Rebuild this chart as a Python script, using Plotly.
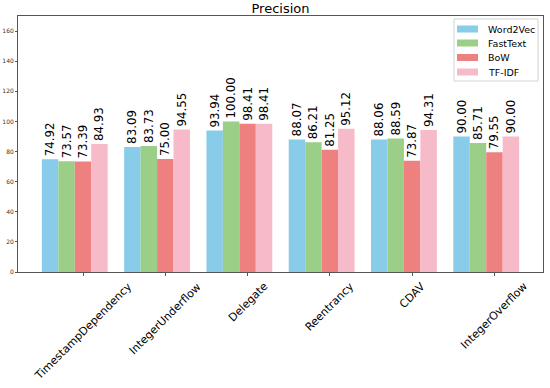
import plotly.graph_objects as go

categories = ["TimestampDependency", "IntegerUnderflow", "Delegate", "Reentrancy", "CDAV", "IntegerOverflow"]
series_names = ["Word2Vec", "FastText", "BoW", "TF-IDF"]
word2vec = [74.92, 83.09, 93.94, 88.07, 88.06, 90.00]
fasttext = [73.57, 83.73, 100.00, 86.21, 88.59, 85.71]
bow = [73.39, 75.00, 98.41, 81.25, 73.87, 79.55]
tfidf = [84.93, 94.55, 98.41, 95.12, 94.31, 90.00]
y_ticks = [0, 20, 40, 60, 80, 100, 120, 140, 160]

colors = ["#88CCE9", "#9BCF87", "#EF8080", "#F7BAC8"]
series = [word2vec, fasttext, bow, tfidf]

W, H = 550, 388
L, R, T, B = 18, 543, 16, 272  # plot area pixel box
pw, ph = R - L, B - T

def px_x(x):
    return (x - L) / pw

def px_y(y):
    return (B - y) / ph

x_pos = list(range(len(categories)))
width = 0.2

fig = go.Figure()
for k, (name, vals, col) in enumerate(zip(series_names, series, colors)):
    fig.add_trace(go.Bar(
        x=[i + (k - 1.5) * width for i in x_pos],
        y=vals,
        width=width,
        name=name,
        marker=dict(color=col, line=dict(width=0)),
        text=[f"{v:.2f}" for v in vals],
        textposition="outside",
        textangle=-90,
        constraintext="none",
        cliponaxis=False,
        textfont=dict(size=11.8, color="black", family="DejaVu Sans"),
        showlegend=False,
    ))

shapes = []
annotations = []

# category labels, centred under the ticks and rotated 45 degrees
for i, cat in enumerate(categories):
    annotations.append(dict(
        x=i + 0.5 * width, xref="x", y=-5 / ph, yref="paper",
        text=cat, showarrow=False, textangle=-45,
        xanchor="center", yanchor="top",
        font=dict(size=11, color="black", family="DejaVu Sans"),
    ))

# legend box
shapes.append(dict(type="rect", xref="paper", yref="paper",
                   x0=px_x(454), x1=px_x(538), y0=px_y(81), y1=px_y(19),
                   line=dict(color="#d3d3d3", width=1), fillcolor="rgba(255,255,255,0.85)",
                   layer="above"))
entry_y = [29, 43, 57.5, 72]
for name, col, ey in zip(series_names, colors, entry_y):
    shapes.append(dict(type="rect", xref="paper", yref="paper",
                       x0=px_x(457), x1=px_x(478), y0=px_y(ey + 3.5), y1=px_y(ey - 3.5),
                       line=dict(width=0), fillcolor=col, layer="above"))
    annotations.append(dict(x=px_x(486), y=px_y(ey), xref="paper", yref="paper",
                            text=name, showarrow=False, xanchor="left", yanchor="middle",
                            font=dict(size=9.5, color="black", family="DejaVu Sans")))

fig.update_layout(
    width=W, height=H,
    margin=dict(l=L, r=W - R, t=T, b=H - B, autoexpand=False),
    paper_bgcolor="white", plot_bgcolor="white",
    font=dict(family="DejaVu Sans", color="black"),
    barmode="overlay",
    showlegend=False,
    title=dict(text="Precision", x=0.5, xref="paper", xanchor="center",
               y=1 - 8 / H, yref="container", yanchor="middle",
               font=dict(size=13, color="black")),
    shapes=shapes,
    annotations=annotations,
)
fig.update_xaxes(
    range=[-0.69, 5.69],
    tickvals=[i + 0.5 * width for i in x_pos],
    showticklabels=False,
    showline=True, mirror=True, linecolor="#555555", linewidth=1,
    ticks="outside", ticklen=3, tickcolor="#555555",
    showgrid=False, zeroline=False, automargin=False,
)
fig.update_yaxes(
    range=[0, 170],
    tickvals=y_ticks,
    tickfont=dict(size=6, color="#333333"),
    showline=True, mirror=True, linecolor="#555555", linewidth=1,
    ticks="outside", ticklen=2, tickcolor="#555555",
    showgrid=False, zeroline=False, automargin=False,
)

fig.write_html("out.html",
               config={"displayModeBar": False, "staticPlot": True},
               post_script="document.body.style.margin='0';document.body.style.padding='0';document.body.style.overflow='hidden';")
